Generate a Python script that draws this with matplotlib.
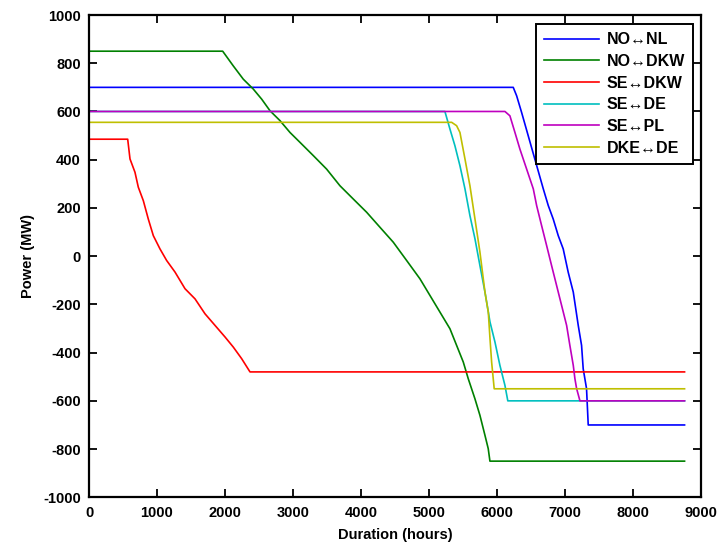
import matplotlib
matplotlib.use('Agg')
import matplotlib.pyplot as plt

# duration curves (hours, MW)
hours_no_nl = [0, 6240, 6290, 6363, 6682, 6755, 6828, 6902, 6975, 7048, 7123, 7196, 7245, 7269, 7318, 7343, 8760]
mw_no_nl = [700, 700, 665, 596, 279, 210, 154, 85, 30, -66, -149, -287, -370, -467, -549, -700, -700]

hours_no_dkw = [0, 1966, 2122, 2269, 2416, 2540, 2662, 2809, 2956, 3103, 3299, 3495, 3691, 3887, 4084,
                4279, 4475, 4672, 4868, 5015, 5162, 5309, 5407, 5505, 5578, 5676, 5750, 5824, 5872, 5897, 8760]
mw_no_dkw = [850, 850, 789, 734, 693, 651, 603, 562, 513, 472, 417, 361, 292, 237, 182,
             120, 58, -18, -94, -163, -232, -301, -370, -439, -508, -591, -660, -743, -798, -850, -850]

hours_se_dkw = [0, 569, 603, 676, 725, 799, 872, 946, 1044, 1142, 1265, 1412, 1559, 1706, 1853, 2000, 2122, 2245, 2368, 8760]
mw_se_dkw = [485, 485, 403, 348, 286, 230, 154, 85, 30, -18, -66, -135, -177, -239, -287, -335, -377, -425, -480, -480]

hours_se_de = [0, 5235, 5309, 5382, 5456, 5530, 5603, 5677, 5750, 5824, 5898, 5971, 6044, 6118, 6160, 8760]
mw_se_de = [600, 600, 527, 458, 375, 279, 168, 72, -39, -149, -273, -356, -453, -536, -600, -600]

hours_se_pl = [0, 6118, 6191, 6265, 6338, 6387, 6535, 6584, 6657, 6731, 6804, 6878, 6952, 7025, 7073, 7123, 7147, 7172, 7221, 8760]
mw_se_pl = [600, 600, 582, 513, 444, 403, 279, 210, 127, 44, -39, -122, -205, -287, -370, -453, -508, -549, -600, -600]

hours_dke_de = [0, 5334, 5407, 5456, 5530, 5603, 5677, 5750, 5824, 5873, 5898, 5922, 5960, 8760]
mw_dke_de = [555, 555, 541, 513, 403, 292, 154, 17, -149, -232, -342, -439, -550, -550]

labels = ['NO\u2194NL', 'NO\u2194DKW', 'SE\u2194DKW', 'SE\u2194DE', 'SE\u2194PL', 'DKE\u2194DE']

plt.rcParams['font.family'] = ['Liberation Sans', 'DejaVu Sans']
plt.rcParams['font.weight'] = 'bold'
plt.rcParams['axes.labelweight'] = 'bold'
plt.rcParams['axes.unicode_minus'] = False

fig = plt.figure(figsize=(7.19, 5.5), dpi=100)
ax = fig.add_axes([0.1238, 0.0958, 0.851, 0.8769])

ax.plot(hours_no_nl, mw_no_nl, color=(0, 0, 1), linewidth=1.2, label=labels[0])
ax.plot(hours_no_dkw, mw_no_dkw, color=(0, 0.5, 0), linewidth=1.2, label=labels[1])
ax.plot(hours_se_dkw, mw_se_dkw, color=(1, 0, 0), linewidth=1.2, label=labels[2])
ax.plot(hours_se_de, mw_se_de, color=(0, 0.75, 0.75), linewidth=1.2, label=labels[3])
ax.plot(hours_se_pl, mw_se_pl, color=(0.75, 0, 0.75), linewidth=1.2, label=labels[4])
ax.plot(hours_dke_de, mw_dke_de, color=(0.75, 0.75, 0), linewidth=1.2, label=labels[5])

ax.set_xlim(0, 9000)
ax.set_ylim(-1000, 1000)
ax.set_xticks(range(0, 9001, 1000))
ax.set_yticks(range(-1000, 1001, 200))
ax.tick_params(direction='in', length=6, width=1.3, labelsize=10.5,
               top=True, right=True, pad=6)
for s in ax.spines.values():
    s.set_linewidth(1.6)

ax.set_xlabel('Duration (hours)', fontsize=10.5, labelpad=6)
ax.set_ylabel('Power (MW)', fontsize=10.5, labelpad=6)

leg = ax.legend(loc='upper right', bbox_to_anchor=(0.987, 0.981), borderaxespad=0,
                fancybox=False, edgecolor='black', framealpha=1, fontsize=11.5,
                handlelength=3.4, labelspacing=0.42, borderpad=0.5, handletextpad=0.5)
leg.get_frame().set_linewidth(1.4)

plt.savefig('out.png', dpi=100)
